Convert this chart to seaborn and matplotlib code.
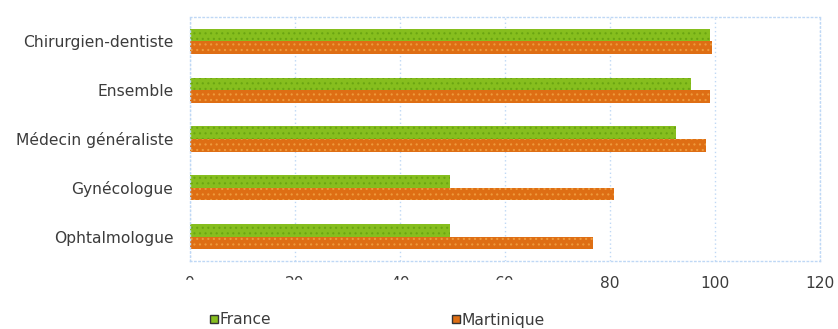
import matplotlib
matplotlib.use("Agg")
import matplotlib.pyplot as plt
import matplotlib.patches as mpatches
from matplotlib.lines import Line2D
import seaborn as sns
import pandas as pd

categories = ["Chirurgien-dentiste", "Ensemble", "Médecin généraliste", "Gynécologue", "Ophtalmologue"]
france = [99.0, 95.5, 92.5, 49.6, 49.6]
martinique = [99.4, 99.0, 98.2, 80.8, 76.8]
series = ["France", "Martinique"]
xticks = [0, 20, 40, 60, 80, 100, 120]

df = pd.DataFrame({
    "cat": categories * 2,
    "val": france + martinique,
    "serie": [series[0]] * len(categories) + [series[1]] * len(categories),
})

sns.set_theme(style="white")
plt.rcParams['font.family'] = ['DejaVu Sans']
plt.rcParams['hatch.linewidth'] = 0.8

green = "#86BE1E"
orange = "#DE6E14"
hatch_cols = {green: "#6AA512", orange: "#EE9A3C"}
fs = 11.2
tc = "#3C3C3C"

fig = plt.figure(figsize=(8.38, 3.29), dpi=100)
ax = fig.add_axes([190/838, 1-261/329, 630/838, 244/329])
sns.barplot(data=df, y="cat", x="val", hue="serie", order=categories,
            palette=[green, orange], width=0.52, ax=ax, legend=False,
            saturation=1, linewidth=0)
for i, cont in enumerate(ax.containers):
    hc = [hatch_cols[green], hatch_cols[orange]][i]
    for p in cont:
        p.set_hatch("...")
        p.set_edgecolor(hc)
        p.set_linewidth(0)

ax.set_xlim(0, 120)
ax.set_xticks(xticks)
ax.set_xticklabels([str(t) for t in xticks])
ax.set_xlabel("")
ax.set_ylabel("")
ax.grid(axis="x", color="#BFD8F5", linestyle=(0, (1, 2)), linewidth=1)
ax.set_axisbelow(True)
for s in ax.spines.values():
    s.set_color("#BFD8F5")
    s.set_linestyle((0, (1, 2)))
    s.set_linewidth(1)
ax.tick_params(axis="y", length=0, labelsize=fs, colors=tc, pad=12)
ax.tick_params(axis="x", length=0, labelsize=fs, colors=tc, pad=11)

# white band partly hiding the lower tick labels (as in the reference)
fig.patches.append(mpatches.Rectangle((170/838, 1-300/329), 390/838, 20/329,
                                      transform=fig.transFigure, color="white", zorder=5))

colors = [green, orange]
xpos = [209, 451]
for name, c, xp in zip(series, colors, xpos):
    h = Line2D([], [], marker="s", linestyle="", markersize=6, markerfacecolor=c,
               markeredgecolor="#333333", markeredgewidth=1.0)
    leg = fig.legend([h], [name], loc="center left", bbox_to_anchor=(xp/838, 1-320/329),
                     frameon=False, fontsize=fs, handlelength=0.6, handletextpad=0.1,
                     borderaxespad=0, borderpad=0)
    for t in leg.get_texts():
        t.set_color(tc)

fig.savefig("out.png", dpi=100)
